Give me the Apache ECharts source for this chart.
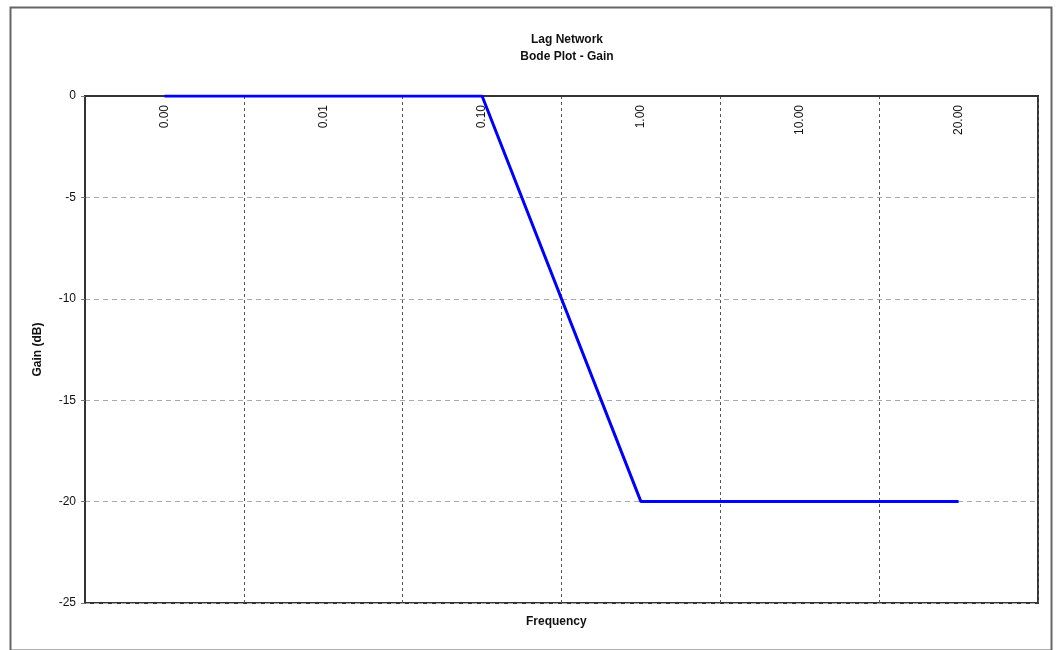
<!DOCTYPE html>
<html><head><meta charset="utf-8">
<script src="https://cdn.jsdelivr.net/npm/echarts@6/dist/echarts.min.js"></script>
<style>html,body{margin:0;padding:0;background:#fff}#c{width:1059px;height:650px}</style>
</head><body><div id="c"></div>
<script>
const categories = ['0.00','0.01','0.10','1.00','10.00','20.00'];
const gainValues = [0, 0, 0, -20, -20, -20];
const yTicks = {min: -25, max: 0, interval: 5};
const titleLines = ['Lag Network', 'Bode Plot - Gain'];
const xName = 'Frequency';
const yName = 'Gain (dB)';

const chart = echarts.init(document.getElementById('c'), null, {renderer: 'canvas'});
const font = 'Arial, "Liberation Sans", sans-serif';
chart.setOption({
  animation: false,
  backgroundColor: '#fff',
  title: {
    text: titleLines.join('\n'), left: 562, top: 26, textAlign: 'center',
    textStyle: {fontFamily: font, fontSize: 12, fontWeight: 'bold', color: '#111', lineHeight: 17}
  },
  graphic: [
    {type: 'rect', left: 8, top: 5, shape: {width: 1041, height: 643},
     style: {fill: 'none', stroke: '#666', lineWidth: 2}, silent: true, z: -1},
    {type: 'text', left: 526, top: 616, style: {text: xName, font: 'bold 12px ' + font, fill: '#111'}}
  ],
  grid: {left: 85, right: 21, top: 96, bottom: 47, show: true, borderColor: '#333', borderWidth: 2, backgroundColor: 'transparent'},
  xAxis: {
    type: 'category', data: categories, position: 'top', boundaryGap: true,
    axisLine: {show: true, lineStyle: {color: '#333', width: 2}},
    axisTick: {show: false},
    axisLabel: {inside: true, rotate: 90, fontFamily: font, fontSize: 12, color: '#111', margin: 9},
    splitLine: {show: true, lineStyle: {color: '#555', type: [3, 3], width: 1}}
  },
  yAxis: {
    type: 'value', min: yTicks.min, max: yTicks.max, interval: yTicks.interval,
    name: yName, nameLocation: 'middle', nameGap: 41,
    nameTextStyle: {fontFamily: font, fontSize: 12, fontWeight: 'bold', color: '#111'},
    axisLine: {show: true, lineStyle: {color: '#333', width: 2}},
    axisTick: {show: true, length: 4, lineStyle: {color: '#777'}},
    axisLabel: {fontFamily: font, fontSize: 12, color: '#111', margin: 9},
    splitLine: {show: true, lineStyle: {color: '#aaa', type: [5, 4], width: 1}}
  },
  series: [{
    type: 'line', data: gainValues, symbol: 'none',
    lineStyle: {color: '#0000ff', width: 3}
  }]
});
</script></body></html>
